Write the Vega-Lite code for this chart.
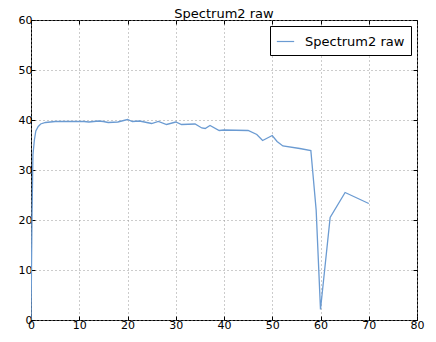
{
  "$schema": "https://vega.github.io/schema/vega-lite/v6.json",
  "width": 386,
  "height": 300,
  "autosize": {"type": "none"},
  "padding": {"left": 31, "top": 20, "right": 19, "bottom": 22},
  "background": "white",
  "title": {"text": "Spectrum2 raw", "font": "DejaVu Sans", "fontSize": 13, "fontWeight": "normal", "color": "black", "offset": 4, "anchor": "middle", "frame": "group", "dy": 11},
  "config": {
    "view": {"stroke": "black", "strokeWidth": 1},
    "axis": {"labelFont": "DejaVu Sans", "labelFontSize": 11, "labelColor": "black", "domain": false, "tickColor": "black", "tickSize": -4, "gridColor": "#999999", "gridDash": [1, 3], "gridOpacity": 1, "title": null, "labelPadding": 3, "labelFlush": false, "labelOverlap": false}
  },
  "data": {"values": [
    {"x": 0, "y": 0, "s": "Spectrum2 raw"},
    {"x": 0.2, "y": 20, "s": "Spectrum2 raw"},
    {"x": 0.4, "y": 33, "s": "Spectrum2 raw"},
    {"x": 0.7, "y": 36, "s": "Spectrum2 raw"},
    {"x": 1.0, "y": 37.8, "s": "Spectrum2 raw"},
    {"x": 1.5, "y": 38.7, "s": "Spectrum2 raw"},
    {"x": 2, "y": 39.2, "s": "Spectrum2 raw"},
    {"x": 3, "y": 39.5, "s": "Spectrum2 raw"},
    {"x": 4, "y": 39.6, "s": "Spectrum2 raw"},
    {"x": 5, "y": 39.7, "s": "Spectrum2 raw"},
    {"x": 8, "y": 39.7, "s": "Spectrum2 raw"},
    {"x": 11, "y": 39.7, "s": "Spectrum2 raw"},
    {"x": 12, "y": 39.6, "s": "Spectrum2 raw"},
    {"x": 14, "y": 39.8, "s": "Spectrum2 raw"},
    {"x": 15, "y": 39.7, "s": "Spectrum2 raw"},
    {"x": 16, "y": 39.5, "s": "Spectrum2 raw"},
    {"x": 18, "y": 39.6, "s": "Spectrum2 raw"},
    {"x": 20, "y": 40.1, "s": "Spectrum2 raw"},
    {"x": 21, "y": 39.7, "s": "Spectrum2 raw"},
    {"x": 22.5, "y": 39.8, "s": "Spectrum2 raw"},
    {"x": 24, "y": 39.5, "s": "Spectrum2 raw"},
    {"x": 25, "y": 39.3, "s": "Spectrum2 raw"},
    {"x": 26.4, "y": 39.7, "s": "Spectrum2 raw"},
    {"x": 28.1, "y": 39.1, "s": "Spectrum2 raw"},
    {"x": 30, "y": 39.6, "s": "Spectrum2 raw"},
    {"x": 31.2, "y": 39.1, "s": "Spectrum2 raw"},
    {"x": 34, "y": 39.2, "s": "Spectrum2 raw"},
    {"x": 35.4, "y": 38.4, "s": "Spectrum2 raw"},
    {"x": 36.1, "y": 38.3, "s": "Spectrum2 raw"},
    {"x": 37.1, "y": 38.9, "s": "Spectrum2 raw"},
    {"x": 39, "y": 37.9, "s": "Spectrum2 raw"},
    {"x": 40, "y": 38.0, "s": "Spectrum2 raw"},
    {"x": 45, "y": 37.9, "s": "Spectrum2 raw"},
    {"x": 46.8, "y": 37.1, "s": "Spectrum2 raw"},
    {"x": 48, "y": 35.9, "s": "Spectrum2 raw"},
    {"x": 50, "y": 36.9, "s": "Spectrum2 raw"},
    {"x": 51, "y": 35.7, "s": "Spectrum2 raw"},
    {"x": 52.2, "y": 34.8, "s": "Spectrum2 raw"},
    {"x": 55.7, "y": 34.3, "s": "Spectrum2 raw"},
    {"x": 58, "y": 33.9, "s": "Spectrum2 raw"},
    {"x": 59.1, "y": 22, "s": "Spectrum2 raw"},
    {"x": 60, "y": 2.1, "s": "Spectrum2 raw"},
    {"x": 62, "y": 20.5, "s": "Spectrum2 raw"},
    {"x": 65.1, "y": 25.5, "s": "Spectrum2 raw"},
    {"x": 70, "y": 23.3, "s": "Spectrum2 raw"}
  ]},
  "layer": [
    {
      "mark": {"type": "line", "strokeWidth": 1.3, "clip": true},
      "encoding": {
        "x": {"field": "x", "type": "quantitative", "scale": {"domain": [0, 80], "nice": false, "zero": false}, "axis": {"orient": "bottom", "values": [0, 10, 20, 30, 40, 50, 60, 70, 80], "grid": true}},
        "y": {"field": "y", "type": "quantitative", "scale": {"domain": [0, 60], "nice": false, "zero": false}, "axis": {"orient": "left", "values": [0, 10, 20, 30, 40, 50, 60], "grid": true}},
        "color": {"field": "s", "type": "nominal", "scale": {"range": ["#6b9bd2"]}, "legend": {"title": null, "orient": "top-right", "offset": 6, "symbolType": "stroke", "symbolSize": 300, "symbolStrokeWidth": 1.2, "labelFont": "DejaVu Sans", "labelFontSize": 13, "labelColor": "black", "strokeColor": "black", "fillColor": "white", "padding": 6, "labelOffset": 10, "cornerRadius": 0}}
      }
    },
    {
      "mark": {"type": "line", "opacity": 0},
      "encoding": {
        "x": {"field": "x", "type": "quantitative", "axis": {"orient": "top", "values": [0, 10, 20, 30, 40, 50, 60, 70, 80], "labels": false, "grid": false}},
        "y": {"field": "y", "type": "quantitative", "axis": {"orient": "right", "values": [0, 10, 20, 30, 40, 50, 60], "labels": false, "grid": false}}
      }
    }
  ],
  "resolve": {"axis": {"x": "independent", "y": "independent"}}
}
